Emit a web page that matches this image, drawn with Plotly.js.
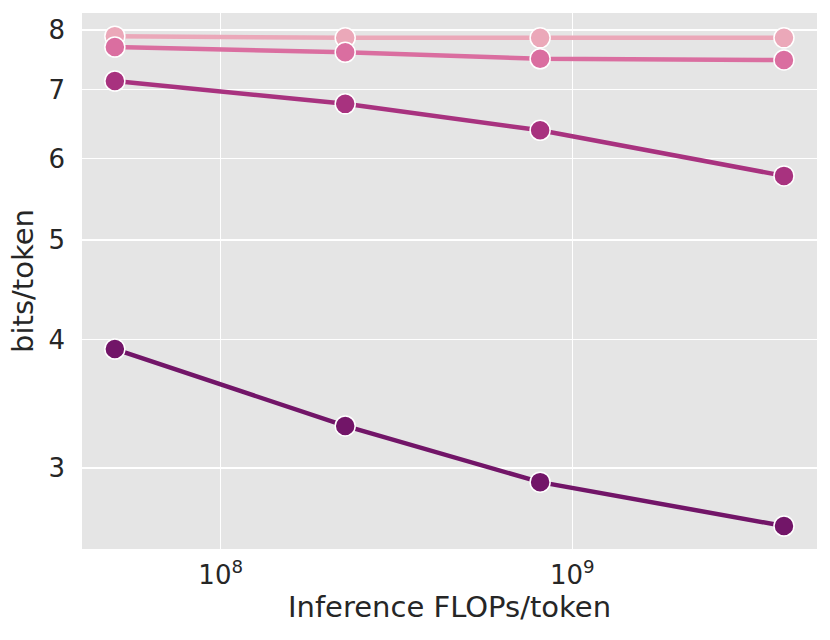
<!DOCTYPE html>
<html>
<head>
<meta charset="utf-8">
<script src="https://cdn.plot.ly/plotly-3.0.1.min.js"></script>
<style>html,body{margin:0;padding:0;background:#fff;}#chart{width:830px;height:640px;}</style>
</head>
<body>
<div id="chart"></div>
<script>
const flops = [5.0e7, 2.26e8, 8.1e8, 4.0e9];
const seriesA = [7.89, 7.86, 7.86, 7.86];
const seriesB = [7.70, 7.61, 7.50, 7.48];
const seriesC = [7.135, 6.78, 6.39, 5.77];
const seriesD = [3.915, 3.296, 2.906, 2.634];
const xTickVals = [1e8, 1e9];
const xTickText = ['10<sup>8</sup>', '10<sup>9</sup>'];
const yTickVals = [3, 4, 5, 6, 7, 8];
const yTickText = ['3', '4', '5', '6', '7', '8'];

const colors = ['#eba8b9', '#da6ea0', '#a8327f', '#721568'];
const series = [seriesA, seriesB, seriesC, seriesD];

const traces = series.map((ys, i) => ({
  x: flops, y: ys, type: 'scatter', mode: 'lines+markers',
  line: {color: colors[i], width: 4.5},
  marker: {color: colors[i], size: 20, line: {color: '#ffffff', width: 1.5}},
  showlegend: false
}));

const layout = {
  width: 830, height: 640,
  margin: {l: 82, r: 13, t: 13, b: 91},
  paper_bgcolor: '#ffffff',
  plot_bgcolor: '#e5e5e5',
  font: {family: 'DejaVu Sans', size: 26, color: '#262626'},
  xaxis: {
    type: 'log',
    range: [7.6055, 9.696],
    tickvals: xTickVals, ticktext: xTickText,
    showgrid: true, gridcolor: '#ffffff', gridwidth: 1.5,
    zeroline: false, showline: false, ticks: '',
    ticklabelstandoff: 8,
    tickfont: {size: 26, color: '#262626'},
    title: {text: 'Inference FLOPs/token', font: {size: 29, color: '#262626'}, standoff: 2}
  },
  yaxis: {
    type: 'log',
    range: [Math.log10(2.502), Math.log10(8.31)],
    tickvals: yTickVals, ticktext: yTickText,
    showgrid: true, gridcolor: '#ffffff', gridwidth: 1.5,
    zeroline: false, showline: false, ticks: '',
    ticklabelstandoff: 16,
    tickfont: {size: 26, color: '#262626'},
    title: {text: 'bits/token', font: {size: 29, color: '#262626'}, standoff: 6}
  }
};

Plotly.newPlot('chart', traces, layout, {displayModeBar: false, staticPlot: true});
</script>
</body>
</html>
